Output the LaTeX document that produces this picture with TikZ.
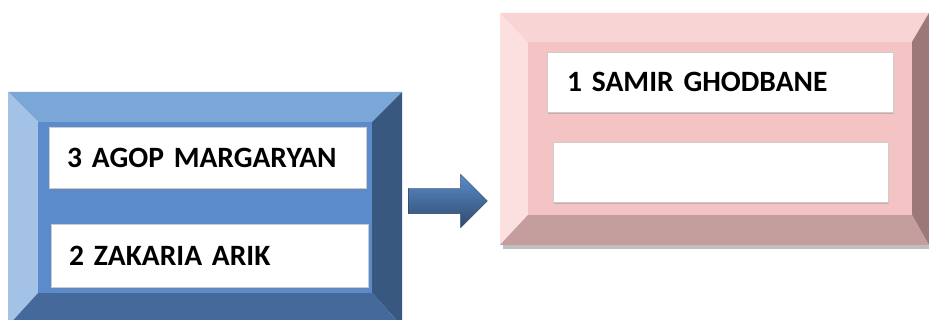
\documentclass[tikz,border=0pt]{standalone}
\usepackage{fontspec}
\setmainfont{Carlito}
\newfontfamily\namefont{Carlito-Bold.ttf}
\newcommand\namestyle{\namefont\fontsize{29.5}{33}\selectfont\spaceskip 4.5pt\relax}
\usepackage{xcolor}
\usepackage{tikz}
\usetikzlibrary{positioning, shapes.arrows, shadows}

\definecolor{blueface}{HTML}{5B8BCB}
\definecolor{bluetop}{HTML}{7AA6D8}
\definecolor{blueleft}{HTML}{A3C2E6}
\definecolor{blueright}{HTML}{38587F}
\definecolor{bluebottom}{HTML}{45699A}
\definecolor{pinkface}{HTML}{F4C3C3}
\definecolor{pinktop}{HTML}{F9D4D4}
\definecolor{pinkleft}{HTML}{FCDFDF}
\definecolor{pinkright}{HTML}{9B7979}
\definecolor{pinkbottom}{HTML}{C49D9D}

% bevelled frame from coordinates #1o1, #1o2 (outer) and #1i1, #1i2 (inner)
\newcommand\bevelframe[2]{
	\fill[#2top] (#1o1) -- (#1o1 -| #1o2) -- (#1i1 -| #1i2) -- (#1i1) -- cycle;
	\fill[#2left] (#1o1) -- (#1i1) -- (#1i1 |- #1i2) -- (#1o1 |- #1o2) -- cycle;
	\fill[#2right] (#1o1 -| #1o2) -- (#1o2) -- (#1i2) -- (#1i1 -| #1i2) -- cycle;
	\fill[#2bottom] (#1o1 |- #1o2) -- (#1i1 |- #1i2) -- (#1i2) -- (#1o2) -- cycle;
	\fill[#2face] (#1i1) rectangle (#1i2);
}

\begin{document}
\begin{tikzpicture}[x=1pt,y=-1pt]
	\tikzstyle{namebox}=[rectangle,draw=black!20,fill=white,anchor=north west,
		inner xsep=18pt,inner ysep=0pt,align=left,font=\namestyle,
		drop shadow={shadow xshift=1pt,shadow yshift=-2pt,opacity=0.35}]
	\clip (0,0) rectangle (929,320);
	\fill[white] (0,0) rectangle (929,320);

	% left frame
	\coordinate (lo1) at (8,92);
	\coordinate (lo2) at (402,326);
	\coordinate (li1) at (38,122);
	\coordinate (li2) at (372,293);
	\bevelframe{l}{blue}

	% right frame
	\fill[black,opacity=0.25] (503,17) rectangle (932,249);
	\coordinate (ro1) at (500,13);
	\coordinate (ro2) at (929,245);
	\coordinate (ri1) at (528,42);
	\coordinate (ri2) at (912,215);
	\bevelframe{r}{pink}

	\node[namebox,text width=281pt,minimum height=61pt](n3) at (49,127) {3 AGOP MARGARYAN};
	\node[namebox,text width=281pt,minimum height=63pt](n2) at (51,224) {2 ZAKARIA ARIK};
	\node[namebox,inner xsep=20pt,text width=306pt,minimum height=60pt](n1) at (547,52) {1 SAMIR GHODBANE};
	\node[namebox,text width=299pt,minimum height=60pt](n0) at (553,142) {};

	\node[single arrow,shape border rotate=0,inner xsep=0pt,inner ysep=12.5pt,
		minimum height=79pt,single arrow head extend=14pt,
		top color=blueface,bottom color=blueright!85!black,draw=blueright!80!black,
		line width=0.4pt](go) at (441.5,201) {};
\end{tikzpicture}
\end{document}
